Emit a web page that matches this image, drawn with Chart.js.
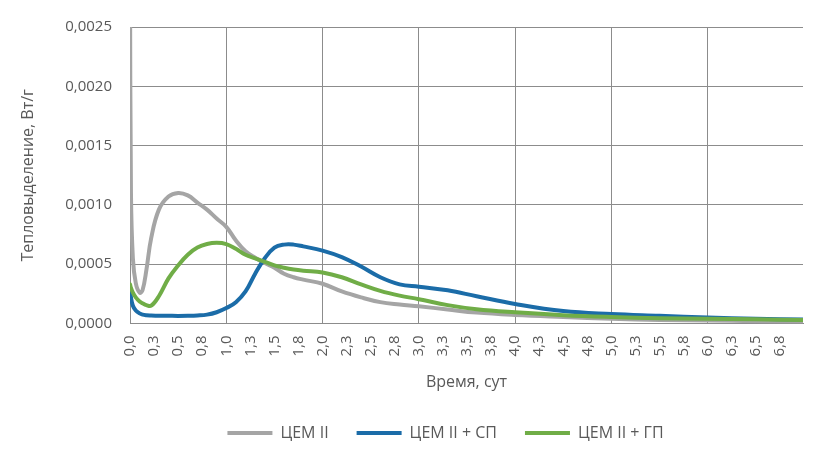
<!DOCTYPE html>
<html>
<head>
<meta charset="utf-8">
<script src="https://cdn.jsdelivr.net/npm/chart.js@4/dist/chart.umd.min.js"></script>
<style>
    html, body { margin: 0; padding: 0; background: #fff; }
    #wrap { width: 840px; height: 459px; }
</style>
</head>
<body>
<div id="wrap"><canvas id="heatChart"></canvas></div>
<script>
// Time, days
const times = [0, 0.01, 0.03, 0.06, 0.1, 0.13, 0.17, 0.22, 0.3, 0.4, 0.5, 0.6, 0.7, 0.8, 0.9, 1.0,
    1.1, 1.2, 1.3, 1.4, 1.5, 1.6, 1.7, 1.8, 2.0, 2.2, 2.4, 2.6, 2.8, 3.0, 3.3, 3.6, 4.0, 4.5,
    5.0, 5.5, 6.0, 6.5, 6.99];

// Heat release, W/g
const cemII = [0.0030, 0.0011, 0.00055, 0.00034, 0.00026, 0.00028, 0.00045, 0.00072, 0.00096, 0.00107,
    0.00110, 0.00108, 0.00102, 0.00096, 0.000885, 0.000815, 0.00070, 0.00061, 0.000555, 0.00051,
    0.00047, 0.00042, 0.00039, 0.00037, 0.000335, 0.00027, 0.00022, 0.00018, 0.00016, 0.000145,
    0.000118, 0.000092, 0.000072, 0.000055, 0.00004, 0.00003, 0.000025, 0.00002, 0.000015];

const cemIISp = [0.0003, 0.00022, 0.00015, 0.00011, 0.000085, 0.000075, 0.00007, 0.000068, 0.000066, 0.000065,
    0.000064, 0.000065, 0.000068, 0.000075, 0.000095, 0.00013, 0.00018, 0.00027, 0.00042, 0.00055,
    0.00064, 0.000665, 0.000665, 0.00065, 0.000615, 0.00056, 0.00048, 0.00039, 0.00033, 0.00031,
    0.00028, 0.00023, 0.000165, 0.000105, 0.00008, 0.000065, 0.00005, 0.00004, 0.000033];

const cemIIGp = [0.00033, 0.0003, 0.00026, 0.00022, 0.000185, 0.00017, 0.000155, 0.00015, 0.00023, 0.00038,
    0.00049, 0.00058, 0.00064, 0.00067, 0.00068, 0.00067, 0.00063, 0.00058, 0.00055, 0.00052,
    0.00049, 0.00047, 0.000455, 0.000445, 0.00043, 0.00039, 0.00033, 0.000275, 0.000235, 0.000205,
    0.000155, 0.00012, 0.000094, 0.00007, 0.000055, 0.000045, 0.00004, 0.000035, 0.00003];

const seriesNames = ['ЦЕМ II', 'ЦЕМ II + СП', 'ЦЕМ II + ГП'];
const seriesColors = ['#A5A5A5', '#1B6CA8', '#70AD47'];

const gridColor = '#8c8c8c';
const textColor = '#595959';

Chart.defaults.font.family = "'Open Sans', sans-serif";
Chart.defaults.color = textColor;

function toPoints(values) {
    return times.map((t, i) => ({ x: t, y: values[i] }));
}

function makeDataset(idx, values, order) {
    return {
        label: seriesNames[idx],
        data: toPoints(values),
        borderColor: seriesColors[idx],
        backgroundColor: seriesColors[idx],
        borderWidth: 4,
        borderCapStyle: 'round',
        pointRadius: 0,
        pointStyle: 'line',
        tension: 0.4,
        order: order
    };
}

// Shift legend so it sits where the original one is
const legendShift = {
    id: 'legendShift',
    afterLayout(chart) {
        chart.legend.left += 44;
        chart.legend.right += 44;
    }
};

new Chart(document.getElementById('heatChart'), {
    type: 'line',
    data: {
        datasets: [
            makeDataset(0, cemII, 3),
            makeDataset(1, cemIISp, 2),
            makeDataset(2, cemIIGp, 1)
        ]
    },
    options: {
        responsive: true,
        maintainAspectRatio: false,
        animation: false,
        layout: {
            padding: { left: 0, right: 37, top: 25, bottom: 8 }
        },
        scales: {
            x: {
                type: 'linear',
                min: 0,
                max: 6.99,
                afterFit: function(scale) { scale.height = 73.5; },
                grid: {
                    drawTicks: false,
                    color: ctx => (ctx.tick && Number.isInteger(ctx.tick.value)) ? gridColor : 'rgba(0,0,0,0)'
                },
                border: { color: gridColor },
                ticks: {
                    stepSize: 0.25,
                    includeBounds: false,
                    autoSkip: false,
                    minRotation: 90,
                    maxRotation: 90,
                    padding: 12,
                    font: { size: 15 },
                    callback: v => v.toFixed(1).replace('.', ',')
                },
                title: {
                    display: true,
                    text: 'Время, сут',
                    font: { size: 16 },
                    padding: { top: 0, bottom: 5 }
                }
            },
            y: {
                min: 0,
                max: 0.0025,
                afterFit: function(scale) { scale.width = 130; },
                grid: { drawTicks: false, color: gridColor },
                border: { color: gridColor },
                ticks: {
                    stepSize: 0.0005,
                    padding: 18,
                    font: { size: 15 },
                    callback: v => v.toFixed(4).replace('.', ',')
                },
                title: {
                    display: true,
                    text: 'Тепловыделение, Вт/г',
                    font: { size: 16 },
                    padding: { top: 19, bottom: 0 }
                }
            }
        },
        plugins: {
            legend: {
                position: 'bottom',
                labels: {
                    usePointStyle: true,
                    pointStyleWidth: 45,
                    padding: 28,
                    font: { size: 16 },
                    color: textColor,
                    sort: (a, b) => a.datasetIndex - b.datasetIndex
                }
            },
            tooltip: { enabled: false }
        }
    },
    plugins: [legendShift]
});
</script>
</body>
</html>
